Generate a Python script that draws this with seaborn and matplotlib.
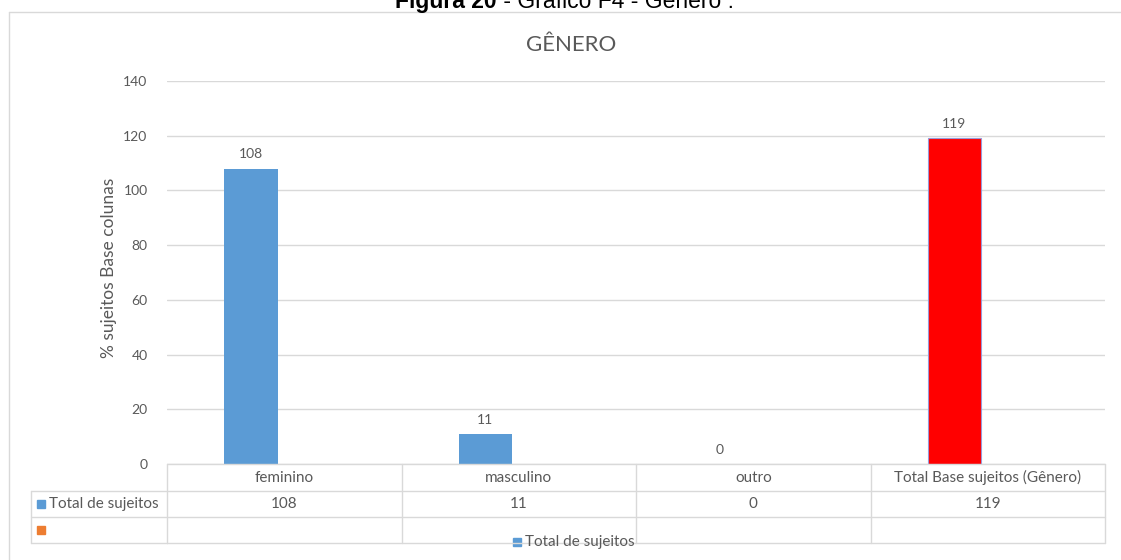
import matplotlib
matplotlib.use("Agg")
import matplotlib.pyplot as plt
import matplotlib.transforms as mtransforms
from matplotlib.lines import Line2D
from matplotlib.patches import Rectangle
import numpy as np
import pandas as pd
import seaborn as sns

# ---- data ----
categories = ["feminino", "masculino", "outro", "Total Base sujeitos (Gênero)"]
totals = [108, 11, 0, 119]
series_main = "Total de sujeitos"
series_empty = " "
y_ticks = [0, 20, 40, 60, 80, 100, 120, 140]

chart_title = "GÊNERO"
y_label = "% sujeitos Base colunas"
caption_bold = "Figura 20"
caption_rest = " - Gráfico F4 - Gênero :"

# ---- style ----
BLUE = "#5B9BD5"
ORANGE = "#ED7D31"
RED = "#FF0000"
TEXT = "#595959"
GRID = "#D9D9D9"

sns.set_theme(style="white")
plt.rcParams["font.family"] = ["Lato", "DejaVu Sans"]

W, H = 1121, 560
fig = plt.figure(figsize=(W / 100, H / 100), dpi=100)


def fx(px):
    return px / W


def fy(py):
    return 1 - py / H


# long-format table: the second (empty) series keeps its slot in each group
df = pd.DataFrame({
    "categoria": categories * 2,
    "serie": [series_main] * len(categories) + [series_empty] * len(categories),
    "valor": totals + [np.nan] * len(categories),
})

ax = fig.add_axes([fx(167), fy(464), fx(1105) - fx(167), fy(81) - fy(464)])
sns.barplot(data=df, x="categoria", y="valor", hue="serie",
            hue_order=[series_main, series_empty],
            palette={series_main: BLUE, series_empty: ORANGE},
            saturation=1, width=0.57, gap=0.2, legend=False, ax=ax, zorder=3)

# last column is highlighted in red
bars = ax.containers[0]
for p in bars.patches:
    p.set_linewidth(0)
bars.patches[-1].set_facecolor(RED)
bars.patches[-1].set_edgecolor("#9A9AD8")
bars.patches[-1].set_linewidth(0.8)

ax.bar_label(bars, labels=[str(v) for v in totals], padding=6,
             color=TEXT, fontsize=10)

ax.set_xlim(-0.5, len(categories) - 0.5)
ax.set_ylim(0, 140)
ax.set_yticks(y_ticks)
ax.set_yticklabels([str(t) for t in y_ticks], color=TEXT, fontsize=10)
ax.tick_params(axis="y", length=0, pad=14)
ax.set_xticks([])
ax.set_xlabel("")
ax.set_ylabel("")
ax.grid(axis="y", color=GRID, linewidth=1, zorder=0)
for s in ax.spines.values():
    s.set_visible(False)

fig.text(fx(109), fy(268), y_label, rotation=90, ha="center", va="center",
         color=TEXT, fontsize=12.5)
fig.text(fx(571), fy(45), chart_title, ha="center", va="center",
         color=TEXT, fontsize=16)

# ---- data table beneath the plot ----
blend = mtransforms.blended_transform_factory(ax.transData, fig.transFigure)
n = len(categories)
row_y = [464, 491, 517, 543]
for i, yy in enumerate(row_y):
    if i > 0:
        fig.add_artist(Line2D([fx(31), fx(167)], [fy(yy)] * 2, color=GRID, lw=1))
    fig.add_artist(Line2D([-0.5, n - 0.5], [fy(yy)] * 2, transform=blend,
                          color=GRID, lw=1, clip_on=False))
fig.add_artist(Line2D([fx(31)] * 2, [fy(491), fy(543)], color=GRID, lw=1))
for b in np.arange(-0.5, n, 1.0):
    fig.add_artist(Line2D([b, b], [fy(464), fy(543)], transform=blend,
                          color=GRID, lw=1, clip_on=False))

for i, (cat, v) in enumerate(zip(categories, totals)):
    fig.text(i, fy(477.5), cat, transform=blend, ha="center", va="center",
             color=TEXT, fontsize=11)
    fig.text(i, fy(504), str(v), transform=blend, ha="center", va="center",
             color=TEXT, fontsize=11)

# row headers with series keys
fig.add_artist(Rectangle((fx(37), fy(508)), fx(8), 8 / H, color=BLUE))
fig.text(fx(49), fy(504), series_main, ha="left", va="center",
         color=TEXT, fontsize=11)
fig.add_artist(Rectangle((fx(37), fy(534)), fx(8), 8 / H, color=ORANGE))

# legend
fig.add_artist(Rectangle((fx(513), fy(546)), fx(8), 8 / H, color=BLUE))
fig.text(fx(525), fy(542), series_main, ha="left", va="center",
         color=TEXT, fontsize=11)

# chart frame (left and top edges)
fig.add_artist(Line2D([fx(9), fx(9)], [fy(12), 0], color=GRID, lw=1))
fig.add_artist(Line2D([fx(9), 1], [fy(12), fy(12)], color=GRID, lw=1))

# caption above the chart frame
cap = fig.text(fx(395), fy(8), caption_bold, ha="left", va="baseline",
               fontsize=16.5, fontweight="bold", color="black",
               family=["Liberation Sans", "DejaVu Sans"])
fig.canvas.draw()
bb = cap.get_window_extent()
fig.text(bb.x1 / W, fy(8), caption_rest, ha="left", va="baseline",
         fontsize=16.5, color="black", family=["Liberation Sans", "DejaVu Sans"])

fig.savefig("out.png", dpi=100)
